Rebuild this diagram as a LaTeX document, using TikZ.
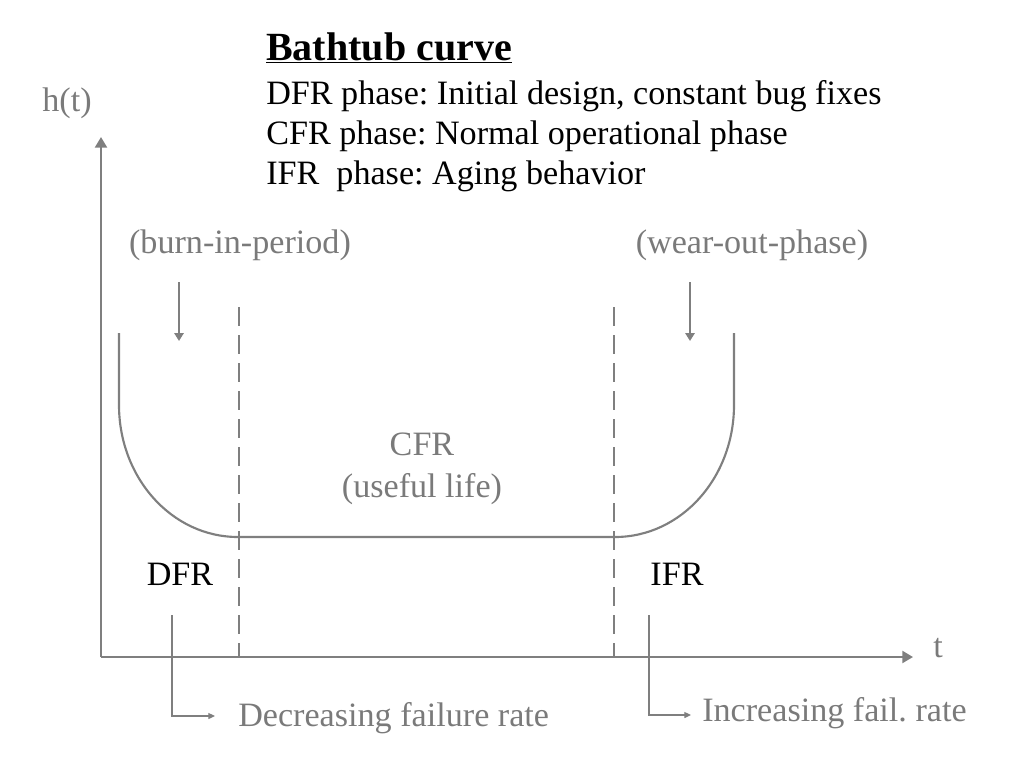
\documentclass[tikz,border=0pt]{standalone}
\usepackage{fontspec}
\setmainfont{Liberation Serif}
\usetikzlibrary{arrows.meta}
\definecolor{lg}{HTML}{7F7F7F}
\definecolor{tg}{HTML}{7A7A7A}
\frenchspacing
\begin{document}
\begin{tikzpicture}[x=0.75pt,y=-0.75pt,
  ln/.style={draw=lg,line width=1.6pt},
  dsh/.style={draw=lg,line width=1.6pt,dash pattern=on 14pt off 7pt},
  tip/.style={-{Triangle[length=8pt,width=9pt]}},
  lbl/.style={inner sep=0pt,font=\fontsize{25.6}{30}\selectfont,text=tg},
  blk/.style={inner sep=0pt,font=\fontsize{25.6}{30}\selectfont,text=black}]
\useasboundingbox (0,0) rectangle (1024,768);
% title
\node[inner sep=0pt,anchor=base west,font=\fontsize{30}{34}\selectfont\bfseries] (title) at (266,60) {\underline{Bathtub curve}};
\node[blk,anchor=base west] (l1) at (266,104) {DFR phase: Initial design, constant bug fixes};
\node[blk,anchor=base west] (l2) at (266,144) {CFR phase: Normal operational phase};
\node[blk,anchor=base west] (l3) at (266,184) {IFR\ \ phase: Aging behavior};
% axes
\coordinate (o) at (101,657);
\coordinate (ytop) at (101,137);
\coordinate (xend) at (913,657);
\draw[ln,tip] (o) -- (ytop);
\draw[ln,tip] (o) -- (xend);
\node[lbl,anchor=base] (ht) at (67,111) {h(t)};
\node[lbl,anchor=base] (tt) at (938,657) {t};
% curve
\coordinate (c0) at (119,333);
\coordinate (c1) at (119,405);
\coordinate (c2) at (238,537);
\coordinate (c3) at (615,537);
\coordinate (c4) at (734,405);
\coordinate (c5) at (734,333);
\draw[ln] (c0) -- (c1) .. controls (119,478) and (172,537) .. (c2) -- (c3)
  .. controls (681,537) and (734,478) .. (c4) -- (c5);
% dashed
\coordinate (d1t) at (239,307); \coordinate (d1b) at (239,657);
\coordinate (d2t) at (614,307); \coordinate (d2b) at (614,657);
\draw[dsh] (d1t) -- (d1b);
\draw[dsh] (d2t) -- (d2b);
% phase labels
\node[lbl,anchor=base] (burn) at (240,253) {(burn-in-period)};
\node[lbl,anchor=base] (wear) at (752,253) {(wear-out-phase)};
\coordinate (a1s) at (179,282); \coordinate (a1e) at (179,341);
\coordinate (a2s) at (690,282); \coordinate (a2e) at (690,341);
\draw[ln,-{Triangle[length=6pt,width=7pt]}] (a1s) -- (a1e);
\draw[ln,-{Triangle[length=6pt,width=7pt]}] (a2s) -- (a2e);
\node[lbl,anchor=base] (cfr) at (422,455) {CFR};
\node[lbl,anchor=base] (useful) at (422,497) {(useful life)};
\node[blk,anchor=base] (dfr) at (180,585) {DFR};
\node[blk,anchor=base] (ifr) at (677,585) {IFR};
% elbow arrows
\node[lbl,anchor=base west] (dec) at (238,726) {Decreasing failure rate};
\node[lbl,anchor=base west] (inc) at (702,721) {Increasing fail. rate};
\coordinate (e1s) at (172,615); \coordinate (e1c) at (172,716); \coordinate (e1e) at (215,716);
\coordinate (e2s) at (649,615); \coordinate (e2c) at (649,715); \coordinate (e2e) at (691,715);
\draw[draw=lg,line width=0.9pt,-{Triangle[length=5pt,width=4.5pt]}] (e1s) -- (e1c) -- (e1e);
\draw[draw=lg,line width=0.9pt,-{Triangle[length=5pt,width=4.5pt]}] (e2s) -- (e2c) -- (e2e);
\end{tikzpicture}
\end{document}
